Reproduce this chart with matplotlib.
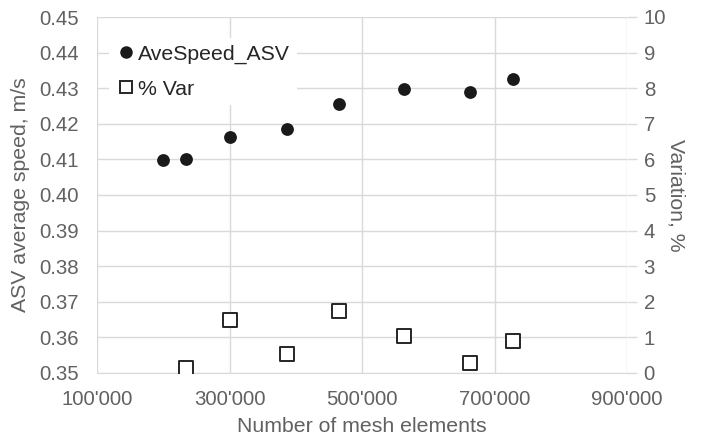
import matplotlib
matplotlib.use("Agg")
import matplotlib.pyplot as plt
from matplotlib.ticker import FuncFormatter, MultipleLocator
from matplotlib.lines import Line2D

plt.rcParams['font.family'] = ['Liberation Sans', 'DejaVu Sans']

speed_x = [200000, 235000, 300000, 387000, 465000, 563000, 663000, 728000]
speed_y = [0.4097, 0.4102, 0.4162, 0.4185, 0.4256, 0.4298, 0.4288, 0.4326]
var_x = [235000, 300000, 387000, 465000, 563000, 663000, 728000]
var_y = [0.15, 1.49, 0.52, 1.74, 1.04, 0.27, 0.89]

xticks = [100000, 300000, 500000, 700000, 900000]

gray = '#616161'
grid = '#d9d9d9'
fs_tick = 14.7
fs_lab = 15.3

fig = plt.figure(figsize=(7.02, 4.37), dpi=100)
fig.subplots_adjust(left=97/702, right=627/702, top=1-17/437, bottom=1-373/437)
ax = fig.add_subplot(111)
ax2 = ax.twinx()

ax.set_xlim(100000, 900000)
ax.set_ylim(0.35, 0.45)
ax2.set_ylim(0, 10)
ax.set_xticks(xticks)
ax.xaxis.set_major_formatter(FuncFormatter(lambda v, p: f"{int(v):,}".replace(',', "'")))
ax.yaxis.set_major_locator(MultipleLocator(0.01))
ax.yaxis.set_major_formatter(FuncFormatter(lambda v, p: f"{v:.2f}"))
ax2.yaxis.set_major_locator(MultipleLocator(1))

ax.grid(True, color=grid, linewidth=1)
ax.set_axisbelow(True)
for a in (ax, ax2):
    for s in a.spines.values():
        s.set_visible(False)
ax.spines['bottom'].set_visible(True)
ax.spines['bottom'].set_color(grid)

ax.tick_params(axis='y', colors=gray, labelsize=fs_tick, length=0, pad=13)
ax.tick_params(axis='x', colors=gray, labelsize=fs_tick, length=0, pad=12)
ax2.tick_params(axis='y', colors=grid, labelcolor=gray, labelsize=fs_tick, length=7, width=1, pad=5)

ax.scatter(speed_x, speed_y, s=85, color='#1a1a1a', zorder=3, linewidths=0)
ax2.scatter(var_x, var_y, s=95, marker='s', facecolor='white', edgecolor='#262626', linewidths=1.4, zorder=3)

ax.set_xlabel('Number of mesh elements', color=gray, fontsize=fs_lab, labelpad=6)
ax.set_ylabel('ASV average speed, m/s', color=gray, fontsize=fs_lab, labelpad=7)
ax2.set_ylabel('Variation, %', color=gray, fontsize=fs_lab, rotation=270, labelpad=14)

handles = [
    Line2D([], [], marker='o', linestyle='none', markersize=9, markerfacecolor='#1a1a1a', markeredgewidth=0),
    Line2D([], [], marker='s', linestyle='none', markersize=9, markerfacecolor='white', markeredgecolor='#262626', markeredgewidth=1.4),
]
leg = ax2.legend(handles, ['AveSpeed_ASV', '% Var'], loc='upper left', bbox_to_anchor=(0.022, 0.94),
                 frameon=True, fontsize=fs_lab, handletextpad=0.1, handlelength=1.0, labelspacing=0.75,
                 borderpad=0.3, borderaxespad=0)
leg.get_frame().set_facecolor('white')
leg.get_frame().set_edgecolor('none')
leg.get_frame().set_alpha(1)
for t in leg.get_texts():
    t.set_color('#262626')

fig.savefig('out.png', dpi=100, facecolor='white')
